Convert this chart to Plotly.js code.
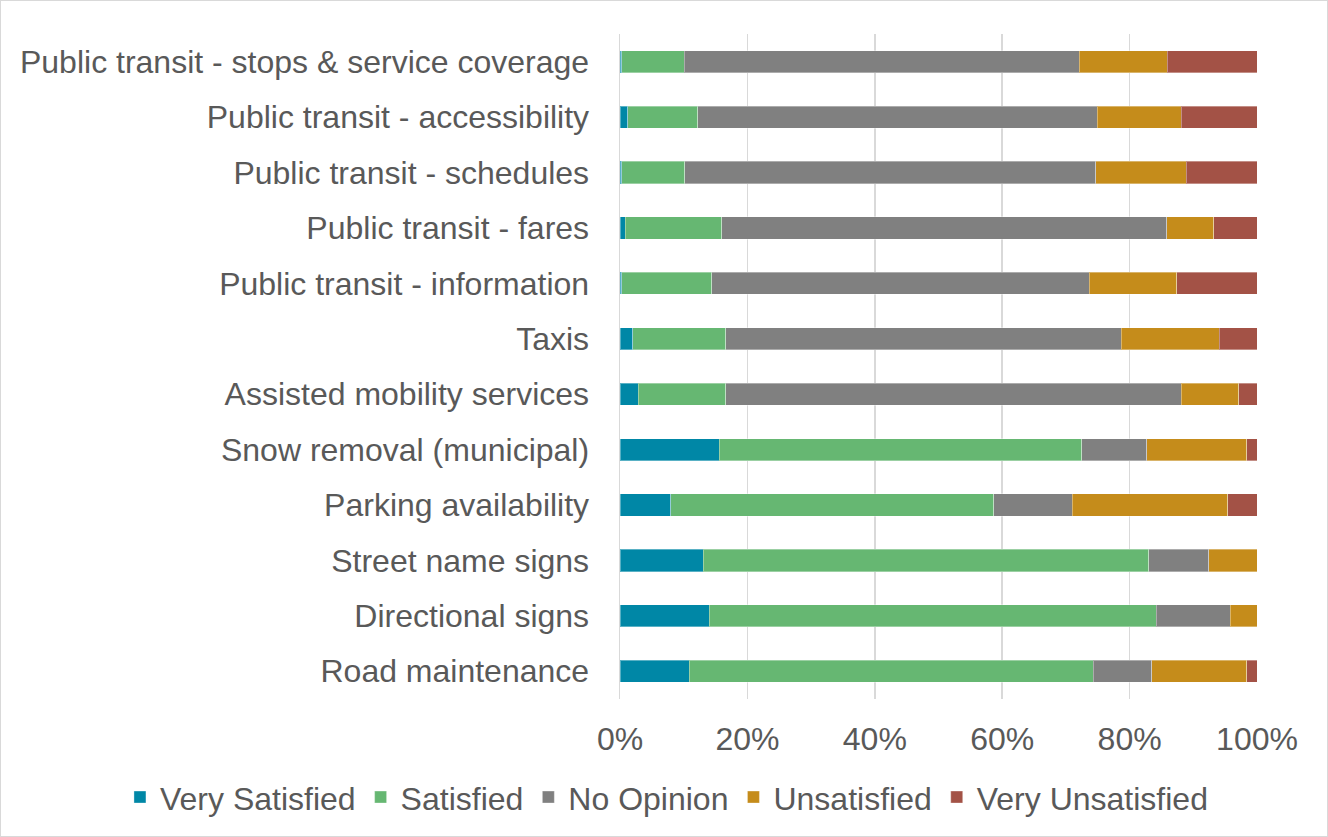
<!DOCTYPE html>
<html>
<head>
<meta charset="utf-8">
<script src="https://cdn.plot.ly/plotly-3.0.1.min.js"></script>
<style>
html,body{margin:0;padding:0;background:#fff;}
#wrap{width:1328px;height:837px;box-sizing:border-box;border:1px solid #d9d9d9;}
#chart{width:1326px;height:835px;}
</style>
</head>
<body>
<div id="wrap"><div id="chart"></div></div>
<script>
const categories = [
  "Public transit - stops & service coverage",
  "Public transit - accessibility",
  "Public transit - schedules",
  "Public transit - fares",
  "Public transit - information",
  "Taxis",
  "Assisted mobility services",
  "Snow removal (municipal)",
  "Parking availability",
  "Street name signs",
  "Directional signs",
  "Road maintenance"
];
const verySatisfied  = [0.3, 1.2, 0.3, 0.8, 0.3, 2.0, 2.9, 15.6, 8.0, 13.1, 14.0, 10.9];
const satisfied      = [9.8, 11.0, 9.9, 15.2, 14.1, 14.6, 13.7, 56.9, 50.7, 69.9, 70.2, 63.4];
const noOpinion      = [62.0, 62.7, 64.5, 69.8, 59.3, 62.1, 71.5, 10.2, 12.3, 9.4, 11.6, 9.2];
const unsatisfied    = [13.8, 13.2, 14.2, 7.4, 13.7, 15.4, 9.0, 15.7, 24.4, 7.6, 4.2, 14.9];
const veryUnsatisfied= [14.1, 11.9, 11.1, 6.8, 12.6, 5.9, 2.9, 1.6, 4.6, 0.0, 0.0, 1.6];
const xTickVals = [0, 20, 40, 60, 80, 100];
const xTickText = ["0%", "20%", "40%", "60%", "80%", "100%"];

const seriesNames = ["Very Satisfied", "Satisfied", "No Opinion", "Unsatisfied", "Very Unsatisfied"];
const seriesData = [verySatisfied, satisfied, noOpinion, unsatisfied, veryUnsatisfied];
const seriesColors = ["#0087a6", "#66b772", "#808080", "#c58c1b", "#a35246"];

const traces = seriesNames.map((n, i) => ({
  type: "bar",
  orientation: "h",
  name: n,
  y: categories,
  x: seriesData[i],
  marker: {color: seriesColors[i], line: {color: "rgba(255,255,255,0.35)", width: 1}},
  hoverinfo: "skip"
}));

const font = {family: "Liberation Sans, Arial, sans-serif", size: 32, color: "#595959"};

const layout = {
  width: 1326,
  height: 835,
  barmode: "stack",
  bargap: 0.6,
  paper_bgcolor: "#ffffff",
  plot_bgcolor: "#ffffff",
  font: font,
  margin: {l: 619, r: 70, t: 33, b: 136, pad: 0},
  showlegend: true,
  legend: {
    orientation: "h",
    xref: "paper", yref: "paper",
    x: -0.785, xanchor: "left",
    y: -0.146, yanchor: "middle",
    font: font,
    traceorder: "normal",
    itemwidth: 30
  },
  xaxis: {
    range: [0, 100],
    tickvals: xTickVals,
    ticktext: xTickText,
    showgrid: true,
    gridcolor: "#d9d9d9",
    gridwidth: 1.5,
    zeroline: false,
    showline: false,
    ticks: "",
    ticklen: 0,
    ticklabelstandoff: 18,
    tickfont: font,
    fixedrange: true
  },
  yaxis: {
    autorange: "reversed",
    type: "category",
    showgrid: false,
    zeroline: false,
    showline: true,
    linecolor: "#d9d9d9",
    linewidth: 1.5,
    ticks: "",
    ticklabelstandoff: 23,
    tickfont: font,
    fixedrange: true
  }
};

Plotly.newPlot("chart", traces, layout, {displayModeBar: false, staticPlot: true});
</script>
</body>
</html>
